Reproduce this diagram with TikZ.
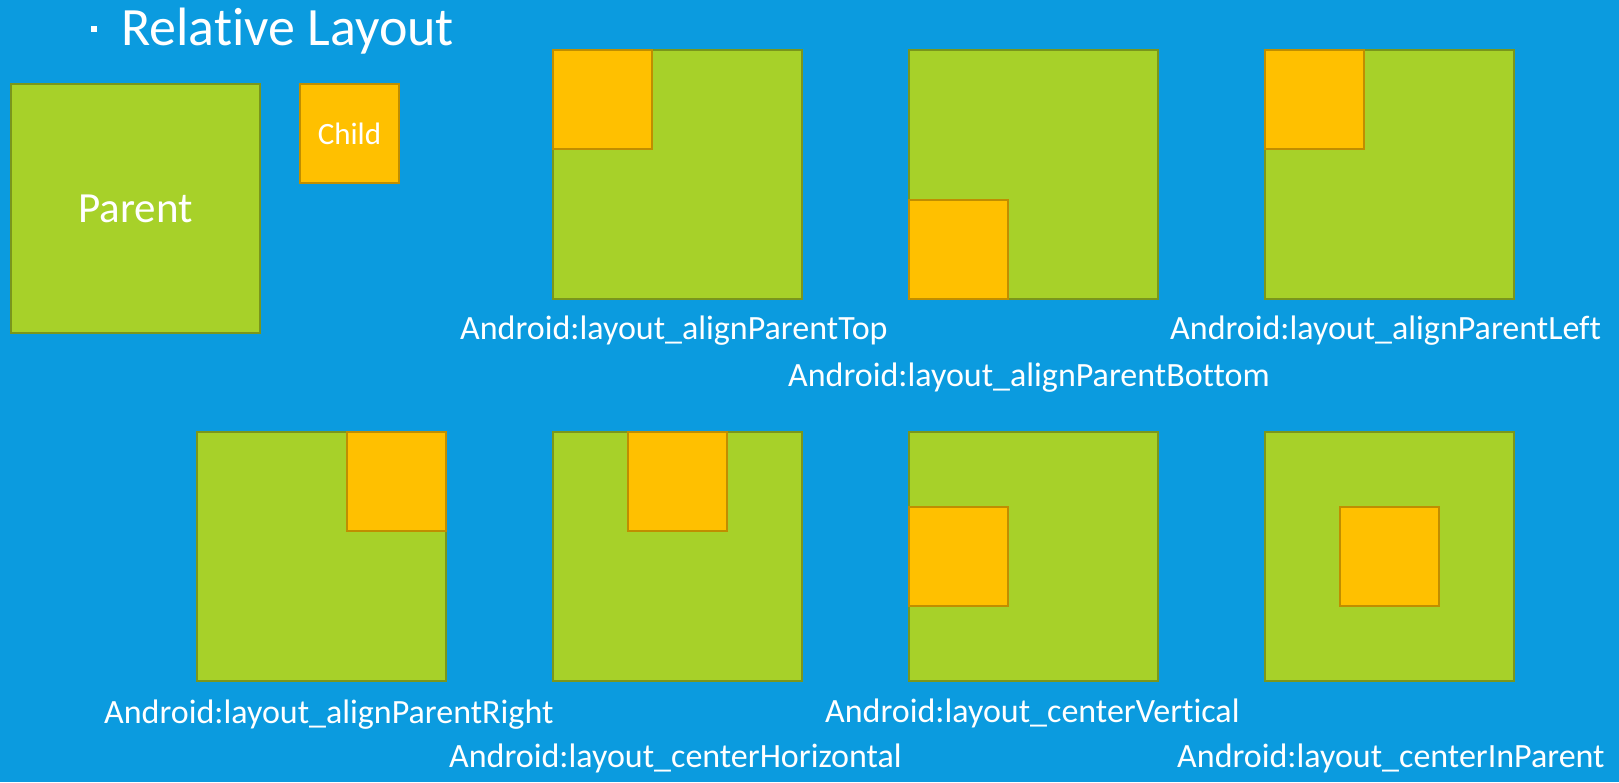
\documentclass[tikz,border=0pt]{standalone}
\usepackage{fontspec}
\setmainfont{Carlito}[Ligatures=NoCommon]
\usepackage{tikz}
\usetikzlibrary{positioning}
\definecolor{bgblue}{HTML}{0B9BDF}
\definecolor{pgreen}{HTML}{A7D129}
\definecolor{pgreenline}{HTML}{7A961C}
\definecolor{corange}{HTML}{FFC000}
\definecolor{corangeline}{HTML}{C08E00}
\tikzstyle{pbox} = [rectangle, draw=pgreenline, fill=pgreen, line width=2pt, minimum size=249pt, inner sep=0pt]
\tikzstyle{cbox} = [rectangle, draw=corangeline, fill=corange, line width=2pt, minimum size=99pt, inner sep=0pt]
\tikzstyle{attr} = [text=white, font=\fontsize{34}{40}\selectfont, anchor=base west, inner sep=0pt]

\begin{document}
\begin{tikzpicture}[x=1pt, y=-1pt]
			\fill [bgblue] (0,0) rectangle (1619,782);
			\useasboundingbox (0,0) rectangle (1619,782);

			\node [fill=white, minimum size=6pt, inner sep=0pt] (dot) at (93.5,28.5) {};
			\node [text=white, font=\fontsize{54}{62}\selectfont, anchor=base west, inner sep=0pt] (title) at (121,45) {Relative Layout};

			\node [pbox, text=white, font=\fontsize{43}{50}\selectfont] (parent) at (135.5,208.5) {Parent};
			\node [cbox, text=white, font=\fontsize{31}{36}\selectfont] (child) at (349.5,133.5) {Child};

			\node [pbox] (p1) at (677,174) {};
			\node [pbox] (p2) at (1033,174) {};
			\node [pbox] (p3) at (1389.5,174) {};
			\node [pbox] (p4) at (321,556.5) {};
			\node [pbox] (p5) at (677,556.5) {};
			\node [pbox] (p6) at (1033,556.5) {};
			\node [pbox] (p7) at (1389,556.5) {};

			\node [cbox, anchor=north west] (c1) at (p1.north west) {};
			\node [cbox, anchor=south west] (c2) at (p2.south west) {};
			\node [cbox, anchor=north west] (c3) at (p3.north west) {};
			\node [cbox, anchor=north east] (c4) at (p4.north east) {};
			\node [cbox, anchor=north] (c5) at (p5.north) {};
			\node [cbox, anchor=west] (c6) at (p6.west) {};
			\node [cbox] (c7) at (p7.center) {};

			\node [attr] (l1) at (460,339) {Android:layout\_alignParentTop};
			\node [attr] (l2) at (788,386) {Android:layout\_alignParentBottom};
			\node [attr] (l3) at (1170,339) {Android:layout\_alignParentLeft};
			\node [attr] (l4) at (104,723) {Android:layout\_alignParentRight};
			\node [attr] (l5) at (449,767) {Android:layout\_centerHorizontal};
			\node [attr] (l6) at (825,722) {Android:layout\_centerVertical};
			\node [attr] (l7) at (1177,767) {Android:layout\_centerInParent};
		\end{tikzpicture}
\end{document}
